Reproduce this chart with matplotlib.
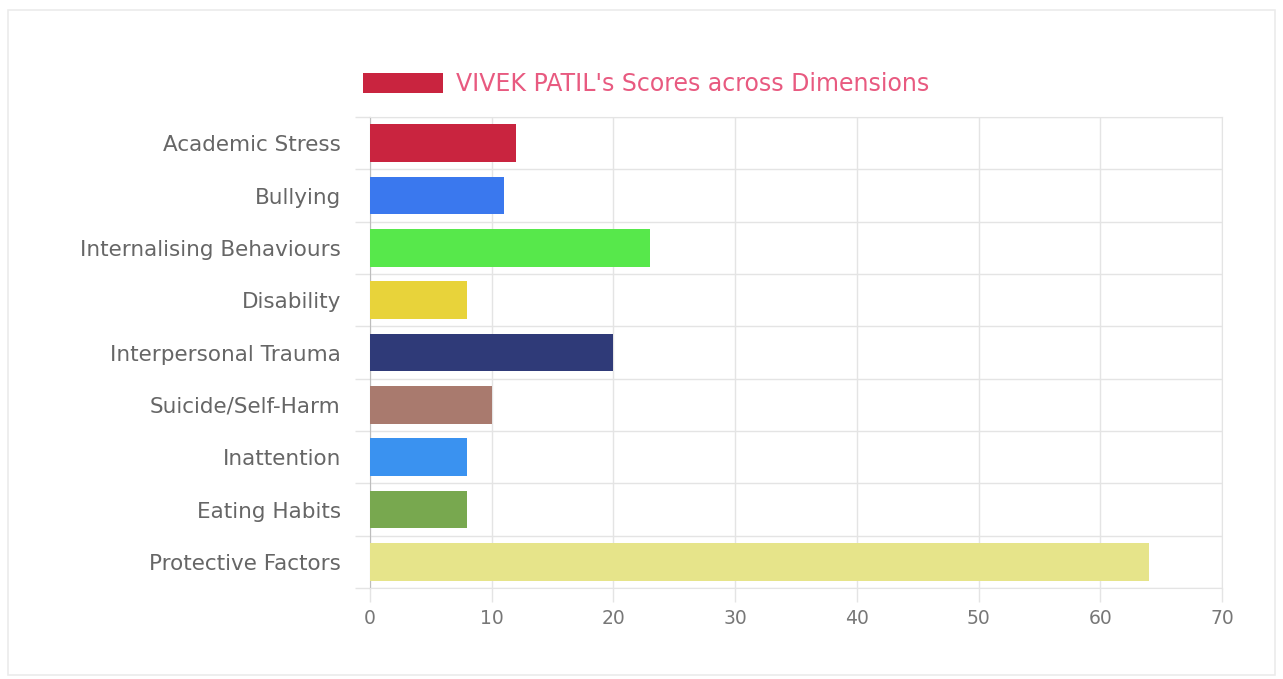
import numpy as np
import matplotlib
matplotlib.use("Agg")
import matplotlib.pyplot as plt
from matplotlib.patches import Rectangle

# data
dims = ["Academic Stress", "Bullying", "Internalising Behaviours", "Disability",
        "Interpersonal Trauma", "Suicide/Self-Harm", "Inattention", "Eating Habits",
        "Protective Factors"]
scores = [12, 11, 23, 8, 20, 10, 8, 8, 64]
colours = ["#c9243f", "#3a78ee", "#57e84b", "#e8d33a", "#2f3a78",
           "#a97a6e", "#3a92f0", "#78a84f", "#e6e48a"]
xticks = [0, 10, 20, 30, 40, 50, 60, 70]
title = "VIVEK PATIL's Scores across Dimensions"

plt.rcParams['font.family'] = ['DejaVu Sans']
grid_c = "#e4e4e4"
text_c = "#666666"

fig = plt.figure(figsize=(12.83, 6.79), dpi=100)
fig.patches.append(Rectangle((8/1283, 4/679), 1267/1283, 665/679, transform=fig.transFigure,
                             fill=False, edgecolor="#ebebeb", linewidth=1.2))
ax = fig.add_axes([370/1283, 1-588/679, 852/1283, 471/679])

y = np.arange(len(dims))
bars = ax.barh(y, scores, height=0.72, color=colours, label=title, zorder=3)

ax.set_xlim(0, 70)
ax.set_ylim(len(dims)-0.5, -0.5)
ax.set_xticks(xticks)
ax.set_yticks(y)
ax.set_yticklabels(dims)
ax.set_yticks(np.arange(-0.5, len(dims), 1), minor=True)

ax.grid(axis='x', which='major', color=grid_c, linewidth=1, zorder=0)
ax.grid(axis='y', which='minor', color=grid_c, linewidth=1, zorder=0)
ax.tick_params(axis='y', which='major', length=0, pad=21, labelsize=15.5, labelcolor=text_c)
ax.tick_params(axis='y', which='minor', length=11, color=grid_c, width=1)
ax.tick_params(axis='x', which='major', length=10, color=grid_c, width=1, pad=5,
               labelsize=13.5, labelcolor="#777777")
for lbl in ax.get_yticklabels():
    lbl.set_va('center_baseline')
for s in ['top', 'right', 'bottom']:
    ax.spines[s].set_color(grid_c)
ax.spines['left'].set_color("#bdbdbd")

fig.legend(handles=[bars], labels=[title], loc='center', bbox_to_anchor=(646/1283, 1-84/679),
           frameon=False, fontsize=17, labelcolor="#e85a80", handlelength=3.4,
           handleheight=0.95, handletextpad=0.55)

fig.savefig("out.png", dpi=100)
